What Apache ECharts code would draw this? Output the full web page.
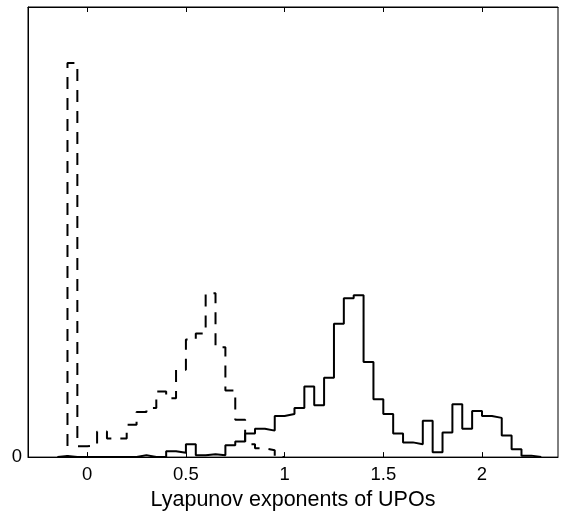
<!DOCTYPE html>
<html>
<head>
<meta charset="utf-8">
<script src="https://cdn.jsdelivr.net/npm/echarts@6/dist/echarts.min.js"></script>
<style>
  html, body { margin: 0; padding: 0; background: #fff; }
  #main { width: 566px; height: 516px; }
</style>
</head>
<body>
<div id="main"></div>
<script>
// histogram bins: left edge of first bin and bin width
var binStart = -0.15;
var binWidth = 0.05;

// dashed histogram (heights)
var dashedCounts = [0, 402, 11, 12, 26, 19, 19, 33, 46, 50, 67, 60, 89, 120, 126, 167,
  112, 68, 38, 13, 9, 7, 0];

// solid histogram
var solidCounts = [1, 0, 0, 0, 0, 0, 0, 0, 2, 0, 0, 6, 4.5, 13, 2, 3, 2, 12, 16, 24, 29,
  27, 42, 44, 50, 72, 53, 81, 136, 162, 165, 97, 59, 44, 24, 15, 13, 37, 5, 25, 54, 29,
  47, 42, 40, 22, 8, 1.5, 0];

var tickValues = [0, 0.5, 1, 1.5, 2];
var tickLabels = ['0', '0.5', '1', '1.5', '2'];
var yLabels = [0];

// turn bin heights into stair points (step: 'end')
function stairs(counts) {
  var pts = [[binStart, 0]];
  for (var i = 0; i < counts.length; i++) {
    pts.push([+(binStart + i * binWidth).toFixed(4), counts[i]]);
  }
  pts.push([+(binStart + counts.length * binWidth).toFixed(4), 0]);
  return pts;
}

var font = '"Liberation Sans", Arial, Helvetica, sans-serif';

var myChart = echarts.init(document.getElementById('main'));
myChart.setOption({
  animation: false,
  backgroundColor: '#fff',
  grid: {
    left: 28, right: 8, top: 7, bottom: 50,
    show: true, borderColor: '#000', borderWidth: 1
  },
  xAxis: [
    {
      type: 'value',
      min: -0.3,
      max: 2.385,
      position: 'bottom',
      axisLine: { show: true, onZero: false, lineStyle: { color: '#000', width: 1 } },
      axisTick: { show: true, inside: true, length: 5, customValues: tickValues,
        lineStyle: { color: '#000' } },
      axisLabel: {
        customValues: tickValues,
        margin: 8,
        color: '#000',
        fontSize: 18.5,
        fontFamily: font,
        formatter: function (v) {
          var k = tickValues.indexOf(v);
          return k >= 0 ? tickLabels[k] : '';
        }
      },
      splitLine: { show: false },
      name: 'Lyapunov exponents of UPOs',
      nameLocation: 'middle',
      nameGap: 27,
      nameTextStyle: { color: '#000', fontSize: 21.5, fontFamily: font }
    },
    {
      type: 'value',
      min: -0.3,
      max: 2.385,
      position: 'top',
      axisLine: { show: true, onZero: false, lineStyle: { color: '#000', width: 1 } },
      axisTick: { show: true, inside: true, length: 5, customValues: tickValues,
        lineStyle: { color: '#000' } },
      axisLabel: { show: false },
      splitLine: { show: false }
    }
  ],
  yAxis: {
    type: 'value',
    min: 0,
    max: 459,
    axisLine: { show: true, onZero: false, lineStyle: { color: '#000', width: 1 } },
    axisTick: { show: false },
    axisLabel: {
      customValues: yLabels,
      margin: 6,
      color: '#000',
      fontSize: 18.5,
      fontFamily: font
    },
    splitLine: { show: false }
  },
  series: [
    {
      name: 'dashed',
      type: 'line',
      step: 'end',
      showSymbol: false,
      symbol: 'none',
      data: stairs(dashedCounts),
      lineStyle: { color: '#000', width: 2, type: [12, 9] },
      z: 3
    },
    {
      name: 'solid',
      type: 'line',
      step: 'end',
      showSymbol: false,
      symbol: 'none',
      data: stairs(solidCounts),
      lineStyle: { color: '#000', width: 2 },
      z: 4
    }
  ]
});
</script>
</body>
</html>
